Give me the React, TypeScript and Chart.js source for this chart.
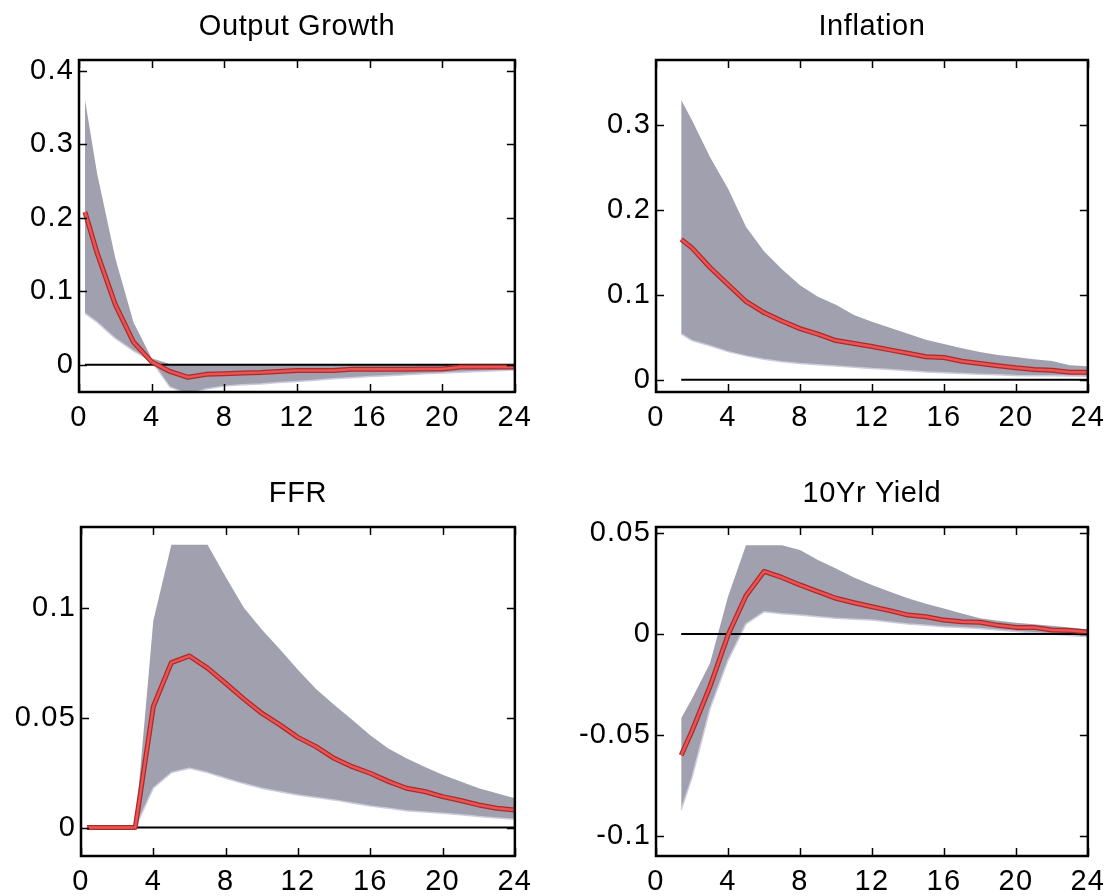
import React, { useEffect, useRef } from "react";
import { Chart, registerables } from "chart.js";

Chart.register(...registerables);

// ---------- data ----------
const X_TICKS = [0, 4, 8, 12, 16, 20, 24];
const X_TICK_LABELS = ["0", "4", "8", "12", "16", "20", "24"];

const X_EARLY = [0.33, 1, 2, 3, 4, 5, 6, 7, 8, 9, 10, 11, 12, 13, 14, 15, 16, 17, 18, 19, 20, 21, 22, 23, 24];
const X_LATE = [1.4, 2, 3, 4, 5, 6, 7, 8, 9, 10, 11, 12, 13, 14, 15, 16, 17, 18, 19, 20, 21, 22, 23, 24];

const OG_MEDIAN = [0.208, 0.152, 0.082, 0.031, 0.004, -0.009, -0.017, -0.013, -0.012, -0.011, -0.0105, -0.009, -0.0077, -0.0077, -0.0077, -0.006, -0.006, -0.006, -0.006, -0.0058, -0.0057, -0.003, -0.003, -0.003, -0.003];
const OG_UPPER = [0.361, 0.26, 0.145, 0.058, 0.009, 0.001, 0, 0, 0, 0, 0, 0, 0, 0, 0, 0, 0, 0, 0, 0, 0, 0, 0, 0, 0];
const OG_LOWER = [0.07, 0.058, 0.036, 0.019, 0.005, -0.03, -0.04, -0.033, -0.029, -0.027, -0.026, -0.024, -0.0227, -0.021, -0.019, -0.0175, -0.016, -0.015, -0.0135, -0.012, -0.011, -0.01, -0.009, -0.008, -0.007];

const INF_MEDIAN = [0.165, 0.155, 0.132, 0.112, 0.092, 0.079, 0.069, 0.06, 0.0535, 0.046, 0.0425, 0.039, 0.035, 0.031, 0.027, 0.026, 0.0216, 0.019, 0.0165, 0.014, 0.012, 0.011, 0.0087, 0.0087];
const INF_UPPER = [0.329, 0.305, 0.262, 0.225, 0.18, 0.151, 0.13, 0.111, 0.0975, 0.088, 0.076, 0.068, 0.061, 0.054, 0.047, 0.042, 0.037, 0.0326, 0.029, 0.0267, 0.024, 0.022, 0.017, 0.0157];
const INF_LOWER = [0.054, 0.046, 0.04, 0.033, 0.028, 0.024, 0.021, 0.019, 0.0175, 0.016, 0.0145, 0.013, 0.012, 0.0105, 0.009, 0.008, 0.0072, 0.0065, 0.0058, 0.005, 0.0047, 0.0045, 0.0042, 0.004];

const FFR_MEDIAN = [0, 0, 0, 0, 0.055, 0.075, 0.078, 0.0725, 0.0656, 0.0585, 0.052, 0.0467, 0.041, 0.0368, 0.0315, 0.0277, 0.0247, 0.021, 0.0179, 0.0164, 0.0141, 0.0123, 0.0103, 0.0088, 0.008];
const FFR_UPPER = [0, 0, 0, 0, 0.094, 0.1285, 0.1285, 0.1285, 0.114, 0.1, 0.09, 0.081, 0.0717, 0.063, 0.0558, 0.049, 0.042, 0.036, 0.0315, 0.0277, 0.024, 0.0209, 0.0179, 0.0156, 0.0133];
const FFR_LOWER = [0, 0, 0, 0, 0.018, 0.025, 0.027, 0.025, 0.0224, 0.02, 0.0179, 0.0163, 0.0148, 0.0137, 0.0126, 0.0112, 0.0098, 0.0088, 0.0077, 0.0071, 0.0065, 0.0058, 0.005, 0.0044, 0.0038];

const TY_MEDIAN = [-0.06, -0.048, -0.026, -0.0005, 0.019, 0.031, 0.028, 0.0243, 0.021, 0.0177, 0.0155, 0.0135, 0.0116, 0.0094, 0.0086, 0.0069, 0.0061, 0.0058, 0.0043, 0.0033, 0.0033, 0.002, 0.0017, 0.001];
const TY_UPPER = [-0.0417, -0.032, -0.0145, 0.0185, 0.044, 0.044, 0.044, 0.0416, 0.0366, 0.0325, 0.028, 0.0243, 0.021, 0.0177, 0.015, 0.0127, 0.0102, 0.0078, 0.0066, 0.0056, 0.0048, 0.0041, 0.0032, 0.0023];
const TY_LOWER = [-0.087, -0.071, -0.037, -0.013, 0.005, 0.011, 0.01, 0.0094, 0.0086, 0.0078, 0.0073, 0.0069, 0.006, 0.005, 0.0043, 0.0036, 0.0032, 0.0028, 0.002, 0.0012, 0.0006, 0, -0.0007, -0.0013];

const OG_Y_TICKS = [0, 0.1, 0.2, 0.3, 0.4];
const OG_Y_LABELS = ["0", "0.1", "0.2", "0.3", "0.4"];
const INF_Y_TICKS = [0, 0.1, 0.2, 0.3];
const INF_Y_LABELS = ["0", "0.1", "0.2", "0.3"];
const FFR_Y_TICKS = [0, 0.05, 0.1];
const FFR_Y_LABELS = ["0", "0.05", "0.1"];
const TY_Y_TICKS = [-0.1, -0.05, 0, 0.05];
const TY_Y_LABELS = ["-0.1", "-0.05", "0", "0.05"];

const TITLES = ["Output Growth", "Inflation", "FFR", "10Yr Yield"];

// ---------- layout / style ----------
const FONT = '"Liberation Sans", Arial, Helvetica, sans-serif';
const PAD_L = 80;
const PAD_T = 60;
const PAD_R = 20;
const PAD_B = 40;
const TICK_LEN = 8;
const BAND = "rgb(160,160,174)";
const BAND_EDGE = "rgb(204,204,222)";
const RED_OUT = "rgb(172,42,42)";
const RED_IN = "rgb(234,84,84)";

type PanelSpec = {
  title: string;
  xs: number[];
  median: number[];
  upper: number[];
  lower: number[];
  yMin: number;
  yMax: number;
  yTicks: number[];
  yLabels: string[];
  box: { left: number; top: number; right: number; bottom: number };
};

const PANELS: PanelSpec[] = [
  { title: TITLES[0], xs: X_EARLY, median: OG_MEDIAN, upper: OG_UPPER, lower: OG_LOWER, yMin: -0.037, yMax: 0.415, yTicks: OG_Y_TICKS, yLabels: OG_Y_LABELS, box: { left: 79, top: 60, right: 520, bottom: 392 } },
  { title: TITLES[1], xs: X_LATE, median: INF_MEDIAN, upper: INF_UPPER, lower: INF_LOWER, yMin: -0.0145, yMax: 0.376, yTicks: INF_Y_TICKS, yLabels: INF_Y_LABELS, box: { left: 656, top: 60, right: 1093, bottom: 392 } },
  { title: TITLES[2], xs: X_EARLY, median: FFR_MEDIAN, upper: FFR_UPPER, lower: FFR_LOWER, yMin: -0.0129, yMax: 0.1366, yTicks: FFR_Y_TICKS, yLabels: FFR_Y_LABELS, box: { left: 81, top: 527, right: 520, bottom: 856 } },
  { title: TITLES[3], xs: X_LATE, median: TY_MEDIAN, upper: TY_UPPER, lower: TY_LOWER, yMin: -0.1099, yMax: 0.053, yTicks: TY_Y_TICKS, yLabels: TY_Y_LABELS, box: { left: 656, top: 527, right: 1093, bottom: 856 } },
];

function toPoints(xs: number[], ys: number[]) {
  return ys.map((y, i) => ({ x: xs[i], y }));
}

function Panel({ spec }: { spec: PanelSpec }) {
  const ref = useRef<HTMLCanvasElement | null>(null);
  const w = spec.box.right - spec.box.left + PAD_L + PAD_R;
  const h = spec.box.bottom - spec.box.top + PAD_T + PAD_B;

  useEffect(() => {
    if (!ref.current) return;
    const framePlugin = {
      id: "frame",
      beforeDraw(chart: any) {
        chart.ctx.letterSpacing = "1.2px";
      },
      afterDatasetsDraw(chart: any) {
        const { ctx, chartArea, scales } = chart;
        const { left, top, right, bottom } = chartArea;
        ctx.save();
        ctx.strokeStyle = "#000";
        ctx.lineWidth = 1.5;
        ctx.beginPath();
        X_TICKS.forEach((v) => {
          const px = Math.round(scales.x.getPixelForValue(v)) + 0.5;
          ctx.moveTo(px, bottom);
          ctx.lineTo(px, bottom - TICK_LEN);
          ctx.moveTo(px, top);
          ctx.lineTo(px, top + TICK_LEN);
        });
        spec.yTicks.forEach((v) => {
          const py = Math.round(scales.y.getPixelForValue(v)) + 0.5;
          ctx.moveTo(left, py);
          ctx.lineTo(left + TICK_LEN, py);
          ctx.moveTo(right, py);
          ctx.lineTo(right - TICK_LEN, py);
        });
        ctx.stroke();
        ctx.lineWidth = 2.5;
        ctx.strokeRect(left, top, right - left, bottom - top);
        ctx.restore();
      },
      afterDraw(chart: any) {
        const { ctx, chartArea } = chart;
        ctx.save();
        ctx.letterSpacing = "0.6px";
        ctx.fillStyle = "#000";
        ctx.font = `29px ${FONT}`;
        ctx.textAlign = "center";
        ctx.textBaseline = "middle";
        ctx.fillText(spec.title, (chartArea.left + chartArea.right) / 2, chartArea.top - 33);
        ctx.restore();
      },
    };

    const xs = spec.xs;
    const chart = new Chart(ref.current, {
      type: "line",
      data: {
        datasets: [
          {
            data: toPoints(xs, spec.upper),
            borderWidth: 0,
            borderColor: BAND,
            backgroundColor: BAND,
            fill: "+1",
            pointRadius: 0,
            order: 4,
          },
          {
            data: toPoints(xs, spec.lower),
            borderWidth: 1.5,
            borderColor: BAND_EDGE,
            backgroundColor: BAND,
            fill: false,
            pointRadius: 0,
            order: 3,
          },
          {
            data: [
              { x: xs[0], y: 0 },
              { x: xs[xs.length - 1], y: 0 },
            ],
            borderWidth: 2,
            borderColor: "#000",
            fill: false,
            pointRadius: 0,
            order: 2,
          },
          {
            data: toPoints(xs, spec.median),
            borderWidth: 5,
            borderColor: RED_OUT,
            fill: false,
            pointRadius: 0,
            order: 1,
          },
          {
            data: toPoints(xs, spec.median),
            borderWidth: 2.5,
            borderColor: RED_IN,
            fill: false,
            pointRadius: 0,
            order: 0,
          },
        ],
      },
      options: {
        responsive: false,
        animation: false,
        devicePixelRatio: 1,
        layout: { padding: { top: PAD_T, right: PAD_R, left: 0, bottom: 0 } },
        elements: { line: { tension: 0, borderJoinStyle: "round" }, point: { radius: 0 } },
        plugins: {
          legend: { display: false },
          tooltip: { enabled: false },
          title: { display: false },
        },
        scales: {
          x: {
            type: "linear",
            min: 0,
            max: 24,
            grid: { display: false, drawTicks: false },
            border: { display: false },
            afterBuildTicks: (s: any) => {
              s.ticks = X_TICKS.map((v) => ({ value: v }));
            },
            afterFit: (s: any) => {
              s.height = PAD_B;
            },
            ticks: {
              padding: 9,
              color: "#000",
              autoSkip: false,
              maxRotation: 0,
              font: { size: 29, family: FONT },
              callback: (_v: any, i: number) => X_TICK_LABELS[i],
            },
          },
          y: {
            type: "linear",
            min: spec.yMin,
            max: spec.yMax,
            grid: { display: false, drawTicks: false },
            border: { display: false },
            afterBuildTicks: (s: any) => {
              s.ticks = spec.yTicks.map((v) => ({ value: v }));
            },
            afterFit: (s: any) => {
              s.width = PAD_L;
            },
            ticks: {
              padding: 5,
              color: "#000",
              autoSkip: false,
              font: { size: 29, family: FONT },
              callback: (_v: any, i: number) => spec.yLabels[i],
            },
          },
        },
      } as any,
      plugins: [framePlugin],
    });
    return () => chart.destroy();
  }, [spec]);

  return (
    <canvas
      ref={ref}
      width={w}
      height={h}
      style={{
        position: "absolute",
        left: spec.box.left - PAD_L,
        top: spec.box.top - PAD_T,
        width: w,
        height: h,
      }}
    />
  );
}

export default function App() {
  return (
    <div
      style={{
        position: "fixed",
        left: 0,
        top: 0,
        width: 1114,
        height: 896,
        overflow: "hidden",
        background: "#fff",
      }}
    >
      {PANELS.map((p) => (
        <Panel key={p.title} spec={p} />
      ))}
    </div>
  );
}
